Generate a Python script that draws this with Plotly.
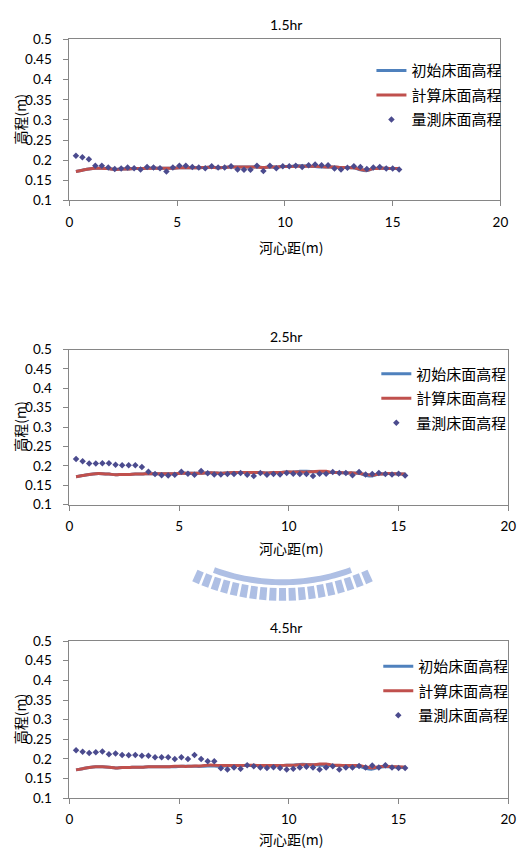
import numpy as np
import plotly.graph_objects as go

# ---------------- data ----------------
x_pts = [0.3, 0.6, 0.9, 1.2, 1.5, 1.8, 2.1, 2.4, 2.7, 3.0, 3.3, 3.6, 3.9, 4.2, 4.5, 4.8,
         5.1, 5.4, 5.7, 6.0, 6.3, 6.6, 6.9, 7.2, 7.5, 7.8, 8.1, 8.4, 8.7, 9.0, 9.3, 9.6,
         9.9, 10.2, 10.5, 10.8, 11.1, 11.4, 11.7, 12.0, 12.3, 12.6, 12.9, 13.2, 13.5, 13.8,
         14.1, 14.4, 14.7, 15.0, 15.3]

initial_bed = [0.172, 0.175, 0.178, 0.180, 0.180, 0.179, 0.177, 0.178, 0.178, 0.179, 0.179,
               0.180, 0.180, 0.180, 0.180, 0.180, 0.181, 0.181, 0.181, 0.181, 0.182, 0.182,
               0.181, 0.182, 0.183, 0.183, 0.183, 0.183, 0.183, 0.182, 0.183, 0.183, 0.184,
               0.184, 0.186, 0.186, 0.185, 0.184, 0.183, 0.183, 0.183, 0.182, 0.182, 0.181,
               0.176, 0.174, 0.179, 0.180, 0.180, 0.179, 0.179]

computed_15 = [0.172, 0.175, 0.178, 0.180, 0.180, 0.179, 0.177, 0.178, 0.178, 0.179, 0.179,
               0.180, 0.180, 0.180, 0.180, 0.180, 0.181, 0.181, 0.181, 0.181, 0.182, 0.182,
               0.181, 0.182, 0.183, 0.183, 0.183, 0.183, 0.183, 0.182, 0.183, 0.183, 0.184,
               0.184, 0.185, 0.185, 0.185, 0.185, 0.184, 0.183, 0.183, 0.182, 0.182, 0.181,
               0.177, 0.175, 0.179, 0.180, 0.180, 0.179, 0.179]

computed_25 = [0.172, 0.175, 0.178, 0.180, 0.180, 0.179, 0.177, 0.178, 0.178, 0.179, 0.179,
               0.180, 0.180, 0.180, 0.180, 0.180, 0.181, 0.181, 0.181, 0.181, 0.182, 0.182,
               0.181, 0.182, 0.183, 0.183, 0.183, 0.183, 0.183, 0.182, 0.183, 0.183, 0.184,
               0.184, 0.184, 0.184, 0.185, 0.186, 0.186, 0.183, 0.183, 0.182, 0.182, 0.181,
               0.178, 0.176, 0.179, 0.180, 0.180, 0.179, 0.179]

computed_45 = [0.172, 0.175, 0.178, 0.180, 0.180, 0.179, 0.177, 0.178, 0.178, 0.179, 0.179,
               0.180, 0.180, 0.180, 0.180, 0.181, 0.181, 0.181, 0.182, 0.182, 0.184, 0.184,
               0.183, 0.183, 0.183, 0.183, 0.184, 0.184, 0.183, 0.183, 0.183, 0.183, 0.184,
               0.184, 0.185, 0.185, 0.185, 0.187, 0.187, 0.184, 0.184, 0.183, 0.183, 0.183,
               0.180, 0.177, 0.180, 0.181, 0.180, 0.180, 0.179]

measured_15 = [0.211, 0.207, 0.202, 0.186, 0.186, 0.182, 0.178, 0.179, 0.182, 0.180, 0.177,
               0.183, 0.182, 0.180, 0.172, 0.182, 0.186, 0.186, 0.183, 0.182, 0.180, 0.185,
               0.182, 0.182, 0.185, 0.177, 0.176, 0.176, 0.186, 0.173, 0.186, 0.180, 0.185,
               0.185, 0.186, 0.183, 0.187, 0.189, 0.187, 0.187, 0.179, 0.177, 0.181, 0.185,
               0.183, 0.178, 0.182, 0.183, 0.179, 0.179, 0.177]

measured_25 = [0.218, 0.212, 0.206, 0.206, 0.207, 0.207, 0.203, 0.202, 0.202, 0.202, 0.197,
               0.185, 0.179, 0.176, 0.175, 0.177, 0.185, 0.180, 0.177, 0.187, 0.181, 0.178,
               0.178, 0.179, 0.179, 0.182, 0.177, 0.174, 0.182, 0.177, 0.179, 0.178, 0.182,
               0.180, 0.179, 0.179, 0.174, 0.180, 0.180, 0.184, 0.182, 0.182, 0.176, 0.184,
               0.178, 0.179, 0.182, 0.179, 0.178, 0.180, 0.175]

measured_45 = [0.222, 0.218, 0.215, 0.217, 0.219, 0.212, 0.214, 0.210, 0.209, 0.210, 0.208,
               0.208, 0.204, 0.204, 0.204, 0.200, 0.204, 0.200, 0.210, 0.200, 0.194, 0.194,
               0.176, 0.173, 0.178, 0.175, 0.184, 0.181, 0.178, 0.177, 0.179, 0.177, 0.173,
               0.175, 0.178, 0.180, 0.178, 0.173, 0.178, 0.181, 0.173, 0.178, 0.178, 0.182,
               0.178, 0.183, 0.178, 0.184, 0.178, 0.177, 0.177]

titles = ["1.5hr", "2.5hr", "4.5hr"]
computed_sets = [computed_15, computed_25, computed_45]
measured_sets = [measured_15, measured_25, measured_45]
series_names = ["初始床面高程", "計算床面高程", "量測床面高程"]
x_title = "河心距(m)"
y_title = "高程(m)"
x_ticks = [0, 5, 10, 15, 20]
y_ticks = [0.1, 0.15, 0.2, 0.25, 0.3, 0.35, 0.4, 0.45, 0.5]

# ---------------- layout helpers ----------------
W, H = 527, 868
FONT = "Lato, 'Noto Sans CJK TC', sans-serif"
CJK = "'Noto Sans CJK TC', Lato, sans-serif"

def px_x(p):
    return p / W

def px_y(p):
    return 1 - p / H

# panel pixel geometry: (left, right, top, bottom, title_y, xtitle_y, legend_x, legend_top)
panels = [
    (67, 508, 32, 196, 17, 243, 376, 47),
    (67, 516, 348, 506, 335, 550, 381, 356),
    (67, 516, 645, 805, 631, 847, 383, 654),
]

BLUE = "#4F81BD"
RED = "#C0504D"
MARK = "#4B4B8E"
AX = "#868686"

fig = go.Figure()
annotations = []
layout_axes = {}
legends = {}

for i, (l, r, t, b, ty, xty, lx, lt) in enumerate(panels):
    n = "" if i == 0 else str(i + 1)
    xa = "x" + n
    ya = "y" + n
    leg = "legend" + n
    fig.add_trace(go.Scatter(x=x_pts, y=initial_bed, mode="lines", name=series_names[0],
                             line=dict(color=BLUE, width=3, shape="spline", smoothing=0.8),
                             xaxis=xa, yaxis=ya, legend=leg, legendgroup="a" + n))
    fig.add_trace(go.Scatter(x=x_pts, y=computed_sets[i], mode="lines", name=series_names[1],
                             line=dict(color=RED, width=3, shape="spline", smoothing=0.8),
                             xaxis=xa, yaxis=ya, legend=leg, legendgroup="b" + n))
    fig.add_trace(go.Scatter(x=x_pts, y=measured_sets[i], mode="markers", name=series_names[2],
                             marker=dict(symbol="diamond", size=5, color=MARK),
                             xaxis=xa, yaxis=ya, legend=leg, legendgroup="c" + n))

    layout_axes["xaxis" + n] = dict(
        domain=[px_x(l), px_x(r)], anchor=ya, range=[0, 20], tickvals=x_ticks,
        showgrid=False, zeroline=False, showline=True, linecolor=AX, linewidth=1,
        mirror=True, ticks="outside", ticklen=5, tickcolor=AX,
        tickfont=dict(family=FONT, size=13.5, color="#000000"), ticklabelstandoff=4,
        fixedrange=True)
    layout_axes["yaxis" + n] = dict(
        domain=[px_y(b), px_y(t)], anchor=xa, range=[0.1, 0.5], tickvals=y_ticks,
        ticktext=[("%g" % v) for v in y_ticks],
        showgrid=False, zeroline=False, showline=True, linecolor=AX, linewidth=1,
        mirror=True, ticks="outside", ticklen=5, tickcolor=AX,
        tickfont=dict(family=FONT, size=13.5, color="#000000"), ticklabelstandoff=9,
        fixedrange=True)
    legends[leg] = dict(
        x=px_x(lx), y=px_y(lt), xanchor="left", yanchor="top",
        bgcolor="rgba(0,0,0,0)", borderwidth=0, traceorder="grouped",
        tracegroupgap=2, font=dict(family=CJK, size=15, color="#000000"),
        itemwidth=30)

    annotations.append(dict(text=titles[i], x=px_x(289), y=px_y(ty), xref="paper", yref="paper",
                            showarrow=False, xanchor="center", yanchor="middle",
                            font=dict(family=FONT, size=14, color="#000000")))
    annotations.append(dict(text=x_title, x=px_x(294), y=px_y(xty), xref="paper", yref="paper",
                            showarrow=False, xanchor="center", yanchor="middle",
                            font=dict(family=CJK, size=14, color="#000000")))
    annotations.append(dict(text=y_title, x=px_x(16), y=px_y((t + b) / 2), xref="paper",
                            yref="paper", showarrow=False, textangle=-90,
                            xanchor="center", yanchor="middle",
                            font=dict(family=CJK, size=14, color="#000000")))

# ---------------- faint background emblem (watermark) ----------------
WM = "#AEBFE4"
cx, cy = 285.0, 380.0
shapes = []

def pt(rad, ang):
    a = np.radians(ang)
    return px_x(cx - rad * np.sin(a)), px_y(cy + rad * np.cos(a))

def poly_path(points):
    return "M " + " L ".join("%.5f,%.5f" % p for p in points) + " Z"

# arc band
angs = np.linspace(-20, 20, 41)
band = [pt(202, a) for a in angs] + [pt(208, a) for a in angs[::-1]]
shapes.append(dict(type="path", path=poly_path(band), xref="paper", yref="paper",
                   fillcolor=WM, line=dict(width=0), layer="below"))
# radial teeth
for a0 in np.arange(-23.4, 23.5, 2.6):
    hw = 0.95
    tooth = [pt(211, a0 - hw), pt(224, a0 - hw), pt(224, a0 + hw), pt(211, a0 + hw)]
    shapes.append(dict(type="path", path=poly_path(tooth), xref="paper", yref="paper",
                       fillcolor=WM, line=dict(width=0), layer="below"))

fig.update_layout(
    width=W, height=H, margin=dict(l=0, r=0, t=0, b=0),
    paper_bgcolor="white", plot_bgcolor="white",
    annotations=annotations, shapes=shapes, showlegend=True,
    **layout_axes, **legends,
)

fig.write_html("out.html", config={"displayModeBar": False})
